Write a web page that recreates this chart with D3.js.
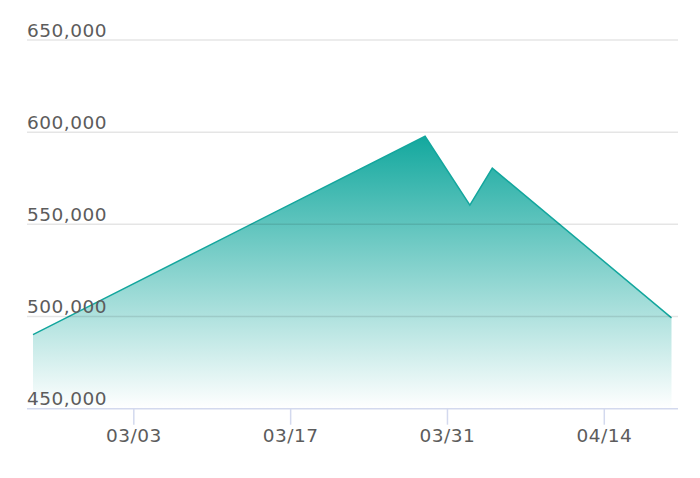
<!DOCTYPE html>
<html>
<head>
<meta charset="utf-8">
<script src="https://cdn.jsdelivr.net/npm/d3@7"></script>
<style>
  body { margin: 0; background: #fff; }
  text { font-family: "DejaVu Sans", sans-serif; }
</style>
</head>
<body>
<svg id="chart"></svg>
<script>
// Data
const dates = ["2024-02-23", "2024-03-29", "2024-04-02", "2024-04-04", "2024-04-20"];
const values = [490200, 597800, 560400, 580500, 499300];
const yTicks = [450000, 500000, 550000, 600000, 650000];
const xTicks = ["2024-03-03", "2024-03-17", "2024-03-31", "2024-04-14"];

const width = 700, height = 478;
const gridLeft = 27, gridRight = 678;

const parseDate = d3.timeParse("%Y-%m-%d");
const data = dates.map((d, i) => ({ date: parseDate(d), value: values[i] }));

const svg = d3.select("#chart").attr("width", width).attr("height", height);

const x = d3.scaleTime()
  .domain(d3.extent(data, d => d.date))
  .range([33, 671.5]);

const y = d3.scaleLinear()
  .domain([450000, 650000])
  .range([408.7, 40]);

// gradient for the area
const grad = svg.append("defs").append("linearGradient")
  .attr("id", "fillGrad")
  .attr("x1", 0).attr("y1", 0).attr("x2", 0).attr("y2", 1);
grad.append("stop").attr("offset", "0%").attr("stop-color", "#13a89e").attr("stop-opacity", 1);
grad.append("stop").attr("offset", "100%").attr("stop-color", "#13a89e").attr("stop-opacity", 0);

const area = d3.area()
  .x(d => x(d.date))
  .y0(y(450000))
  .y1(d => y(d.value));

const line = d3.line()
  .x(d => x(d.date))
  .y(d => y(d.value));

svg.append("path")
  .datum(data)
  .attr("fill", "url(#fillGrad)")
  .attr("d", area);

svg.append("path")
  .datum(data)
  .attr("fill", "none")
  .attr("stroke", "#13a69d")
  .attr("stroke-width", 1.5)
  .attr("d", line);

// horizontal grid lines + labels
const grid = svg.append("g");
yTicks.filter(t => t !== 450000).forEach(t => {
  grid.append("line")
    .attr("x1", gridLeft).attr("x2", gridRight)
    .attr("y1", y(t)).attr("y2", y(t))
    .attr("stroke", "rgba(0,0,0,0.1)")
    .attr("stroke-width", 1.5);
});
yTicks.forEach(t => {
  grid.append("text")
    .attr("x", gridLeft)
    .attr("y", y(t) - 3.5)
    .attr("fill", "#5c5c5c")
    .style("font-size", "18.5px")
    .style("letter-spacing", "0.5px")
    .text(d3.format(",")(t));
});

// x axis
const xAxis = svg.append("g");
xAxis.append("line")
  .attr("x1", gridLeft).attr("x2", gridRight)
  .attr("y1", y(450000)).attr("y2", y(450000))
  .attr("stroke", "#d3d9ee")
  .attr("stroke-width", 1.5);

const fmt = d3.timeFormat("%m/%d");
xTicks.map(parseDate).forEach(d => {
  xAxis.append("line")
    .attr("x1", x(d)).attr("x2", x(d))
    .attr("y1", y(450000)).attr("y2", y(450000) + 16)
    .attr("stroke", "#d3d9ee")
    .attr("stroke-width", 1.5);
  xAxis.append("text")
    .attr("x", x(d))
    .attr("y", 442)
    .attr("text-anchor", "middle")
    .attr("fill", "#5c5c5c")
    .style("font-size", "18.5px")
    .style("letter-spacing", "0.5px")
    .text(fmt(d));
});
</script>
</body>
</html>
